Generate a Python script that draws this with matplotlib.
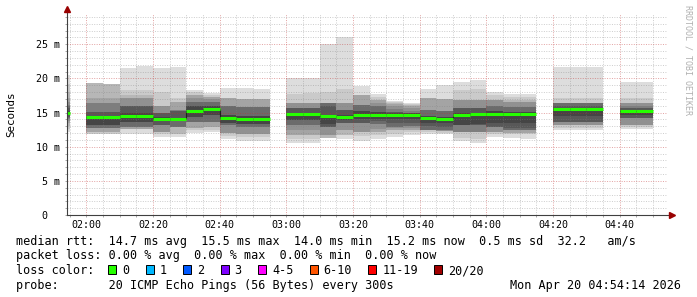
import matplotlib
matplotlib.use('Agg')
import matplotlib.pyplot as plt
from matplotlib.patches import Rectangle
from matplotlib.ticker import MultipleLocator, FixedLocator

plt.rcParams['font.family'] = ['DejaVu Sans Mono', 'DejaVu Sans']

# each step is 300 s, start given in minutes after 02:00
step_start = [-10, 0, 5, 10, 15, 20, 25, 30, 35, 40, 45, 50,
              60, 65, 70, 75, 80, 85, 90, 95, 100, 105, 110, 115, 120, 125, 130,
              140, 145, 150, 160, 165]
median_ms = [15.0, 14.3, 14.3, 14.55, 14.55, 14.05, 14.0, 15.25, 15.5, 14.2, 14.0, 14.0,
             14.8, 14.8, 14.55, 14.4, 14.65, 14.7, 14.7, 14.7, 14.25, 14.1, 14.7, 14.85, 14.85, 14.85, 14.85,
             15.5, 15.5, 15.5, 15.2, 15.2]
# 20 sorted ping times (ms) per step
pings = [
    [12.2, 12.6, 13.0, 13.4, 13.7, 14.0, 14.2, 14.4, 14.6, 14.9, 15.1, 15.3, 15.6, 15.9, 16.1, 16.6, 17.2, 18.0, 19.2, 20.5],
    [11.8, 11.8, 12.2, 12.2, 12.7, 12.7, 12.7, 13.2, 13.2, 14.15, 14.4, 14.4, 15.1, 15.15, 16.35, 16.4, 17.1, 19.3, 19.3, 19.3],
    [11.8, 11.8, 12.2, 12.2, 12.7, 12.7, 12.7, 13.2, 13.2, 14.15, 14.4, 14.4, 15.1, 15.15, 16.35, 16.4, 17.1, 19.2, 19.2, 19.2],
    [11.8, 12.6, 12.6, 12.6, 12.9, 12.9, 12.9, 13.6, 13.6, 14.5, 14.6, 14.9, 15.9, 15.9, 15.9, 17.1, 17.1, 17.6, 18.3, 21.5],
    [11.8, 12.6, 12.6, 12.6, 12.9, 12.9, 12.9, 13.6, 13.6, 14.5, 14.6, 14.9, 15.9, 15.9, 15.9, 17.1, 17.1, 17.6, 18.3, 21.8],
    [11.45, 11.8, 12.2, 12.2, 12.2, 13.2, 13.2, 13.2, 13.75, 14.0, 14.1, 14.3, 14.9, 14.9, 14.9, 15.9, 15.9, 15.9, 18.0, 21.5],
    [11.45, 11.9, 11.9, 12.9, 12.9, 12.9, 12.9, 13.75, 13.75, 13.95, 14.05, 14.15, 15.2, 15.2, 15.4, 15.4, 16.6, 16.6, 17.1, 21.6],
    [12.0, 12.4, 12.7, 12.7, 13.6, 13.6, 13.6, 14.4, 14.4, 15.15, 15.35, 15.9, 15.9, 16.6, 16.6, 17.2, 17.6, 17.6, 18.0, 18.3],
    [12.1, 12.5, 12.9, 12.9, 13.6, 13.6, 13.6, 14.6, 14.6, 15.45, 15.55, 16.0, 16.0, 16.5, 16.5, 17.0, 17.3, 17.3, 17.6, 17.8],
    [11.1, 11.6, 12.0, 12.0, 12.0, 13.2, 13.2, 13.5, 13.5, 14.15, 14.25, 14.6, 14.6, 15.9, 15.9, 15.9, 17.1, 17.1, 17.1, 18.65],
    [10.9, 11.4, 11.9, 11.9, 11.9, 12.9, 12.9, 13.3, 13.3, 13.95, 14.05, 14.5, 14.5, 15.8, 15.8, 15.8, 17.0, 17.0, 17.0, 18.55],
    [10.9, 11.4, 11.9, 11.9, 11.9, 12.9, 12.9, 13.3, 13.3, 13.95, 14.05, 14.5, 14.5, 15.8, 15.8, 15.8, 17.0, 17.0, 17.0, 18.5],
    [10.6, 11.2, 11.7, 11.7, 12.4, 13.2, 13.2, 13.9, 13.9, 14.75, 14.85, 15.0, 15.7, 15.7, 15.7, 16.35, 16.35, 16.35, 17.7, 20.0],
    [10.6, 11.2, 11.7, 11.7, 12.4, 13.2, 13.2, 13.9, 13.9, 14.75, 14.85, 15.0, 15.7, 15.7, 15.7, 16.35, 16.35, 16.35, 17.8, 20.0],
    [11.3, 11.3, 11.3, 11.7, 11.7, 12.9, 12.9, 12.9, 13.3, 14.5, 14.6, 14.7, 15.9, 16.35, 16.35, 16.35, 16.35, 16.35, 18.05, 25.0],
    [11.1, 11.7, 11.7, 12.5, 12.5, 13.4, 13.4, 13.4, 13.9, 14.35, 14.45, 14.6, 15.4, 15.4, 15.4, 16.35, 16.35, 16.35, 18.5, 26.0],
    [10.8, 11.5, 12.2, 12.2, 12.2, 13.4, 13.4, 13.4, 14.0, 14.6, 14.7, 15.2, 15.2, 16.1, 16.1, 16.1, 17.6, 17.6, 17.6, 18.9],
    [11.2, 11.7, 12.2, 12.2, 12.6, 13.3, 13.3, 13.7, 14.0, 14.65, 14.75, 15.1, 15.1, 15.9, 15.9, 16.4, 16.9, 16.9, 17.3, 17.7],
    [11.45, 11.9, 12.45, 12.45, 12.7, 12.9, 12.9, 13.5, 14.0, 14.65, 14.75, 14.9, 15.1, 15.1, 15.5, 15.9, 16.2, 16.4, 16.55, 16.7],
    [11.7, 12.1, 12.5, 12.5, 12.8, 13.0, 13.0, 13.5, 14.0, 14.65, 14.75, 14.9, 15.0, 15.0, 15.3, 15.6, 15.9, 16.1, 16.3, 16.45],
    [11.9, 12.2, 12.45, 12.45, 12.45, 12.45, 12.45, 13.0, 13.5, 14.2, 14.3, 14.5, 14.5, 15.4, 15.4, 15.4, 17.1, 17.1, 17.1, 18.45],
    [11.85, 12.0, 12.3, 12.3, 12.3, 12.4, 12.4, 12.9, 13.4, 14.05, 14.15, 14.4, 14.4, 15.3, 15.3, 15.3, 17.0, 17.0, 17.0, 19.0],
    [10.8, 11.3, 12.2, 12.2, 12.2, 12.2, 13.2, 13.2, 13.2, 14.65, 14.75, 14.9, 15.6, 15.6, 15.6, 16.8, 16.8, 16.8, 18.3, 19.5],
    [10.6, 11.2, 12.2, 12.2, 12.2, 12.2, 13.2, 13.2, 13.3, 14.8, 14.9, 15.0, 15.6, 15.6, 15.6, 16.9, 16.9, 16.9, 18.4, 19.7],
    [11.45, 11.8, 12.2, 12.2, 12.2, 12.9, 12.9, 12.9, 13.4, 14.8, 14.9, 15.2, 15.2, 15.9, 15.9, 16.8, 16.8, 16.8, 17.5, 18.05],
    [11.3, 11.8, 12.0, 12.0, 12.45, 12.45, 12.45, 12.8, 13.4, 14.8, 14.9, 15.1, 15.1, 15.8, 15.8, 16.5, 16.5, 16.9, 17.3, 17.7],
    [11.1, 11.8, 12.0, 12.0, 12.45, 12.45, 12.45, 12.8, 13.4, 14.8, 14.9, 15.1, 15.1, 15.8, 15.8, 16.5, 16.5, 16.9, 17.3, 17.7],
    [12.5, 12.8, 13.2, 13.2, 13.2, 13.65, 13.65, 13.65, 14.5, 15.45, 15.55, 15.6, 15.9, 16.35, 16.35, 16.35, 16.35, 16.35, 17.1, 21.7],
    [12.5, 12.8, 13.2, 13.2, 13.2, 13.65, 13.65, 13.65, 14.5, 15.45, 15.55, 15.6, 15.9, 16.35, 16.35, 16.35, 16.35, 16.35, 17.1, 21.7],
    [12.5, 12.8, 13.2, 13.2, 13.2, 13.65, 13.65, 13.65, 14.5, 15.45, 15.55, 15.6, 15.9, 16.35, 16.35, 16.35, 16.35, 16.35, 17.1, 21.7],
    [12.6, 12.9, 13.2, 13.2, 13.2, 14.15, 14.15, 14.15, 14.6, 15.1, 15.2, 15.4, 15.6, 15.6, 16.0, 16.35, 16.35, 16.35, 17.1, 19.4],
    [12.6, 12.9, 13.2, 13.2, 13.2, 14.15, 14.15, 14.15, 14.6, 15.1, 15.2, 15.4, 15.6, 15.6, 16.0, 16.35, 16.35, 16.35, 17.1, 19.4],
]
step_len = 5

x_ticks = [0, 20, 40, 60, 80, 100, 120, 140, 160]
x_labels = ['02:00', '02:20', '02:40', '03:00', '03:20', '03:40', '04:00', '04:20', '04:40']
y_ticks = [0, 5, 10, 15, 20, 25]
y_labels = ['0  ', '5 m', '10 m', '15 m', '20 m', '25 m']

loss_labels = ['0', '1', '2', '3', '4-5', '6-10', '11-19', '20/20']
loss_colors = ['#26ff00', '#00b8ff', '#0059ff', '#7e00ff', '#ff00ff', '#ff5500', '#ff0000', '#a10000']

W, H = 697, 297
fig = plt.figure(figsize=(W / 100, H / 100), dpi=100)
fig.patch.set_facecolor('white')
ax = fig.add_axes([67 / W, 82 / H, 600 / W, 201 / H])

# smoke: band i spans ping[i] .. ping[20-1-i], darker towards the middle
half = 10
for i in range(half):
    g = int(190 / half * (half - (i + 1))) + 50
    col = '#%02x%02x%02x' % (g, g, g)
    lows = [p[i] for p in pings]
    highs = [p[19 - i] for p in pings]
    ax.bar(step_start, [h - l for h, l in zip(highs, lows)], bottom=lows, width=step_len,
           align='edge', color=col, linewidth=0, zorder=1)

# median: dark joins between neighbouring steps, then green loss-0 line
for i in range(len(step_start) - 1):
    if step_start[i + 1] == step_start[i] + step_len:
        ax.vlines(step_start[i + 1], median_ms[i], median_ms[i + 1], color='#202020', lw=0.8, zorder=3)
ax.hlines(median_ms, step_start, [s + step_len for s in step_start], color=loss_colors[0], lw=2.2, zorder=4)

ax.set_xlim(-5.767, 174.233)
ax.set_ylim(0, 201 / 6.83)
ax.xaxis.set_major_locator(FixedLocator(x_ticks))
ax.set_xticklabels(x_labels)
ax.xaxis.set_minor_locator(MultipleLocator(5))
ax.yaxis.set_major_locator(FixedLocator(y_ticks))
ax.set_yticklabels(y_labels)
ax.yaxis.set_minor_locator(MultipleLocator(1))
ax.set_axisbelow(False)
ax.grid(which='minor', color='#808080', alpha=0.4, linestyle=(0, (1, 1.5)), lw=0.7)
ax.grid(which='major', color='#c03030', alpha=0.45, linestyle=(0, (1, 1.5)), lw=0.7)
ax.tick_params(which='both', length=1.5, width=0.6, color='#999999', labelsize=7.2)
ax.tick_params(axis='x', pad=1.8)
ax.tick_params(axis='y', pad=3.5)
for s in ax.spines.values():
    s.set_visible(False)
ax.set_facecolor('white')

# axis lines with arrows
ax.plot([0, 0], [0, 1.02], transform=ax.transAxes, color='#404040', lw=0.8, clip_on=False, zorder=5)
ax.plot([0, 1.006], [0, 0], transform=ax.transAxes, color='#404040', lw=0.8, clip_on=False, zorder=5)
ax.plot([0], [1.025], marker='^', ms=4, color='#990000', transform=ax.transAxes, clip_on=False, zorder=6)
ax.plot([1.008], [0], marker='>', ms=4, color='#990000', transform=ax.transAxes, clip_on=False, zorder=6)


def px(x):
    return x / W


def py(y):
    return 1 - y / H


fig.text(px(11), py(114), 'Seconds', rotation=90, ha='center', va='center', fontsize=7.8)
fig.text(px(688), py(5), 'RRDTOOL / TOBI OETIKER', rotation=270, ha='center', va='top',
         fontsize=6, color='#b0b0b0')

fs = 8.5
fig.text(px(16), py(245), 'median rtt:  14.7 ms avg  15.5 ms max  14.0 ms min  15.2 ms now  0.5 ms sd  32.2   am/s',
         fontsize=fs, va='baseline')
fig.text(px(16), py(259.5), 'packet loss: 0.00 % avg  0.00 % max  0.00 % min  0.00 % now',
         fontsize=fs, va='baseline')
fig.text(px(16), py(274), 'loss color:', fontsize=fs, va='baseline')
fig.text(px(16), py(288.5), 'probe:       20 ICMP Echo Pings (56 Bytes) every 300s',
         fontsize=fs, va='baseline')
fig.text(px(681), py(288.5), 'Mon Apr 20 04:54:14 2026', fontsize=fs, va='baseline', ha='right')

bx = 108.3
for lab, c in zip(loss_labels, loss_colors):
    fig.patches.append(Rectangle((px(bx), py(273.7)), 8 / W, 9 / H, transform=fig.transFigure,
                                 facecolor=c, edgecolor='black', lw=0.7))
    fig.text(px(bx + 14), py(274), lab, fontsize=fs, va='baseline')
    bx += 14 + 7.1 * len(lab) + 16.3

fig.savefig('out.png', dpi=100)
